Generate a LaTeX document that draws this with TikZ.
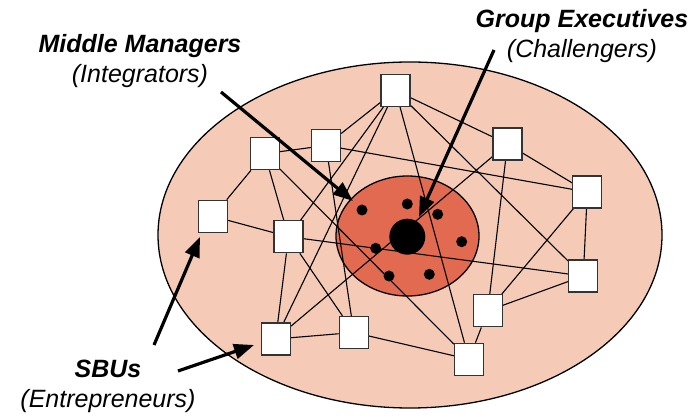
\documentclass[tikz,border=0pt]{standalone}
\usepackage{fontspec}
\setmainfont{Liberation Sans}
\usetikzlibrary{positioning,arrows.meta,shapes.geometric,backgrounds}
\definecolor{firmfill}{RGB}{245,202,182}
\definecolor{corefill}{RGB}{226,106,80}

\begin{document}
\begin{tikzpicture}[x=1pt,y=-1pt,sbu/.style={draw=black!80,fill=white,line width=1.3pt,minimum width=29pt,minimum height=32pt,inner sep=0pt},link/.style={draw=black,line width=1.1pt},dot/.style={circle,fill=black,inner sep=0pt,minimum size=11pt},pointer/.style={draw=black,line width=3.2pt,-{Triangle[length=20pt,width=15pt]}},title/.style={align=center,font=\fontsize{25}{30}\selectfont}]
  \useasboundingbox (0,0) rectangle (699,419);

  \node[sbu] (u_a) at (395.5,90.5) {};
  \node[sbu] (u_b) at (326,145.5) {};
  \node[sbu] (u_c) at (264.7,153.7) {};
  \node[sbu] (u_d) at (213,216.3) {};
  \node[sbu] (u_e) at (288.5,236.7) {};
  \node[sbu] (u_f) at (275.7,339) {};
  \node[sbu] (u_g) at (353.8,332.5) {};
  \node[sbu] (u_h) at (507.5,144) {};
  \node[sbu] (u_i) at (587.3,192) {};
  \node[sbu] (u_j) at (583.3,276) {};
  \node[sbu] (u_k) at (487.8,310.8) {};
  \node[sbu] (u_l) at (469,359.3) {};

  \begin{scope}[on background layer]
    \node[draw,ellipse,line width=1.3pt,fill=firmfill,minimum width=504pt,minimum height=346pt] (firm) at (410,235) {};
    \node[draw,ellipse,line width=1.3pt,fill=corefill,minimum width=143pt,minimum height=120pt] (core) at (407.5,236) {};
    \foreach \from/\to in {a/b,a/e,a/f,a/l,a/j,a/h,b/c,b/g,b/i,c/d,c/e,c/l,d/e,e/f,e/g,e/j,f/g,f/h,g/l,h/i,h/k,i/j,i/k,j/k,k/l}
      \draw[link] (u_\from) -- (u_\to);
  \end{scope}

  \node[circle,fill=black,inner sep=0pt,minimum size=36pt] (exec) at (407.3,236.7) {};
  \node[dot] (m1) at (362,210) {};
  \node[dot] (m2) at (407.3,204) {};
  \node[dot] (m3) at (437.7,214.3) {};
  \node[dot] (m4) at (461.7,241.7) {};
  \node[dot] (m5) at (375.7,248.3) {};
  \node[dot] (m6) at (389,276) {};
  \node[dot] (m7) at (429.3,274.3) {};

  \node[title] (mm_label) at (140,61) {\bfseries\itshape Middle Managers\\\itshape (Integrators)};
  \node[title] (ge_label) at (582,36) {\bfseries\itshape Group Executives\\\itshape (Challengers)};
  \node[title] (sbu_label) at (108,386) {\bfseries\itshape SBUs\\\itshape (Entrepreneurs)};

  \coordinate (mm_from) at (221,92);
  \coordinate (mm_to) at (353,201);
  \coordinate (ge_from) at (494,50);
  \coordinate (ge_to) at (419,217);
  \coordinate (sbu_from1) at (154,345);
  \coordinate (sbu_to1) at (200,237);
  \coordinate (sbu_from2) at (178,371);
  \coordinate (sbu_to2) at (254,345);

  \draw[pointer] (mm_from) -- (mm_to);
  \draw[pointer] (ge_from) -- (ge_to);
  \draw[pointer] (sbu_from1) -- (sbu_to1);
  \draw[pointer] (sbu_from2) -- (sbu_to2);
\end{tikzpicture}
\end{document}
